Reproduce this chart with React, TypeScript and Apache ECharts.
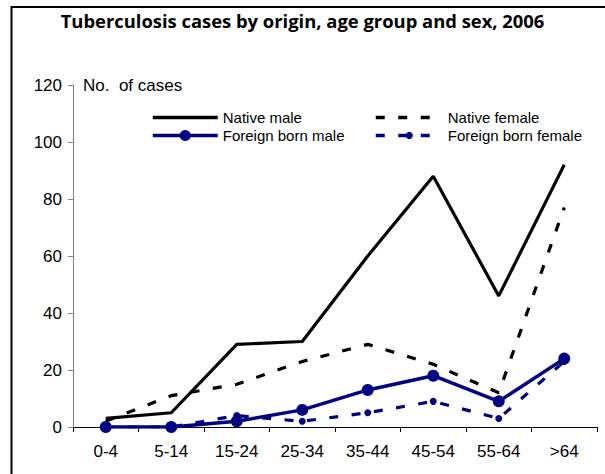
import React, { useEffect, useRef } from "react";
import * as echarts from "echarts";

const categories = ["0-4", "5-14", "15-24", "25-34", "35-44", "45-54", "55-64", ">64"];
const nativeMale = [3, 5, 29, 30, 60, 88, 46, 92];
const nativeFemale = [2, 11, 15, 23, 29, 22, 12, 77];
const foreignMale = [0, 0, 2, 6, 13, 18, 9, 24];
const foreignFemale = [0, 0, 4, 2, 5, 9, 3, 23];
const yTicks = { min: 0, max: 120, interval: 20 };

const FONT = "'Liberation Sans', Arial, sans-serif";
const NAVY = "#000080";
const DASH = [9, 13.5];

export default function App() {
  const ref = useRef<HTMLDivElement>(null);
  useEffect(() => {
    if (!ref.current) return;
    const chart = echarts.init(ref.current, null, { renderer: "svg" });
    chart.setOption({
      animation: false,
      backgroundColor: "#ffffff",
      title: {
        text: "Tuberculosis cases by origin, age group and sex, 2006",
        left: "center",
        top: 11,
        padding: 0,
        textStyle: { fontFamily: "'Open Sans', 'Noto Sans', sans-serif", fontWeight: "bold", fontSize: 18.4, color: "#000" },
      },
      legend: [
        {
          data: [
            { name: "Native male", itemStyle: { opacity: 0 }, lineStyle: { width: 3.5, color: "#000" } },
            { name: "Foreign born male", lineStyle: { width: 3.5, color: NAVY } },
          ],
          orient: "vertical",
          left: 151,
          top: 110,
          padding: 0,
          itemWidth: 65,
          itemHeight: 14,
          itemGap: 3,
          textStyle: { fontFamily: FONT, fontSize: 15, color: "#000" },
        },
        {
          data: [
            { name: "Native female", itemStyle: { opacity: 0 }, lineStyle: { width: 3.5, color: "#000", type: DASH } },
            { name: "Foreign born female", lineStyle: { width: 3.5, color: NAVY, type: DASH } },
          ],
          orient: "vertical",
          left: 374,
          top: 110,
          padding: 0,
          itemWidth: 67,
          itemHeight: 9,
          itemGap: 3,
          textStyle: { fontFamily: FONT, fontSize: 15, color: "#000" },
        },
      ],
      grid: { left: 73, right: 8, top: 85, bottom: 47, containLabel: false },
      xAxis: {
        type: "category",
        data: categories,
        boundaryGap: true,
        axisLine: { show: true, lineStyle: { color: "#000", width: 1 } },
        axisTick: { show: true, alignWithLabel: false, length: 5, lineStyle: { color: "#000" } },
        axisLabel: { fontFamily: FONT, fontSize: 17, color: "#000", margin: 16, interval: 0 },
        splitLine: { show: false },
      },
      yAxis: {
        type: "value",
        min: yTicks.min,
        max: yTicks.max,
        interval: yTicks.interval,
        name: "No.  of cases",
        nameLocation: "end",
        nameGap: 0,
        nameTextStyle: { fontFamily: FONT, fontSize: 17, color: "#000", align: "left", verticalAlign: "middle", padding: [0, 0, 0, 10] },
        axisLine: { show: true, lineStyle: { color: "#808080", width: 1 } },
        axisTick: { show: true, length: 5, lineStyle: { color: "#808080" } },
        axisLabel: { fontFamily: FONT, fontSize: 17, color: "#000", margin: 11 },
        splitLine: { show: false },
      },
      series: [
        {
          name: "Native male",
          type: "line",
          data: nativeMale,
          symbol: "none",
          lineStyle: { color: "#000", width: 3.2 },
          itemStyle: { color: "#000" },
          z: 2,
        },
        {
          name: "Native female",
          type: "line",
          data: nativeFemale,
          symbol: "none",
          lineStyle: { color: "#000", width: 3.2, type: DASH },
          itemStyle: { color: "#000" },
          z: 2,
        },
        {
          name: "Foreign born male",
          type: "line",
          data: foreignMale,
          symbol: "circle",
          symbolSize: 12,
          lineStyle: { color: NAVY, width: 3.5 },
          itemStyle: { color: NAVY },
          z: 3,
        },
        {
          name: "Foreign born female",
          type: "line",
          data: foreignFemale,
          symbol: "circle",
          symbolSize: 7,
          lineStyle: { color: NAVY, width: 3.2, type: DASH },
          itemStyle: { color: NAVY },
          z: 4,
        },
      ],
      graphic: [
        { type: "line", shape: { x1: 11, y1: 7, x2: 605, y2: 7 }, style: { stroke: "#000", lineWidth: 2 } },
        { type: "line", shape: { x1: 11.5, y1: 6, x2: 11.5, y2: 474 }, style: { stroke: "#000", lineWidth: 2 } },
      ],
    });
    return () => chart.dispose();
  }, []);
  return <div ref={ref} style={{ position: "fixed", left: 0, top: 0, width: 605, height: 474 }} />;
}
